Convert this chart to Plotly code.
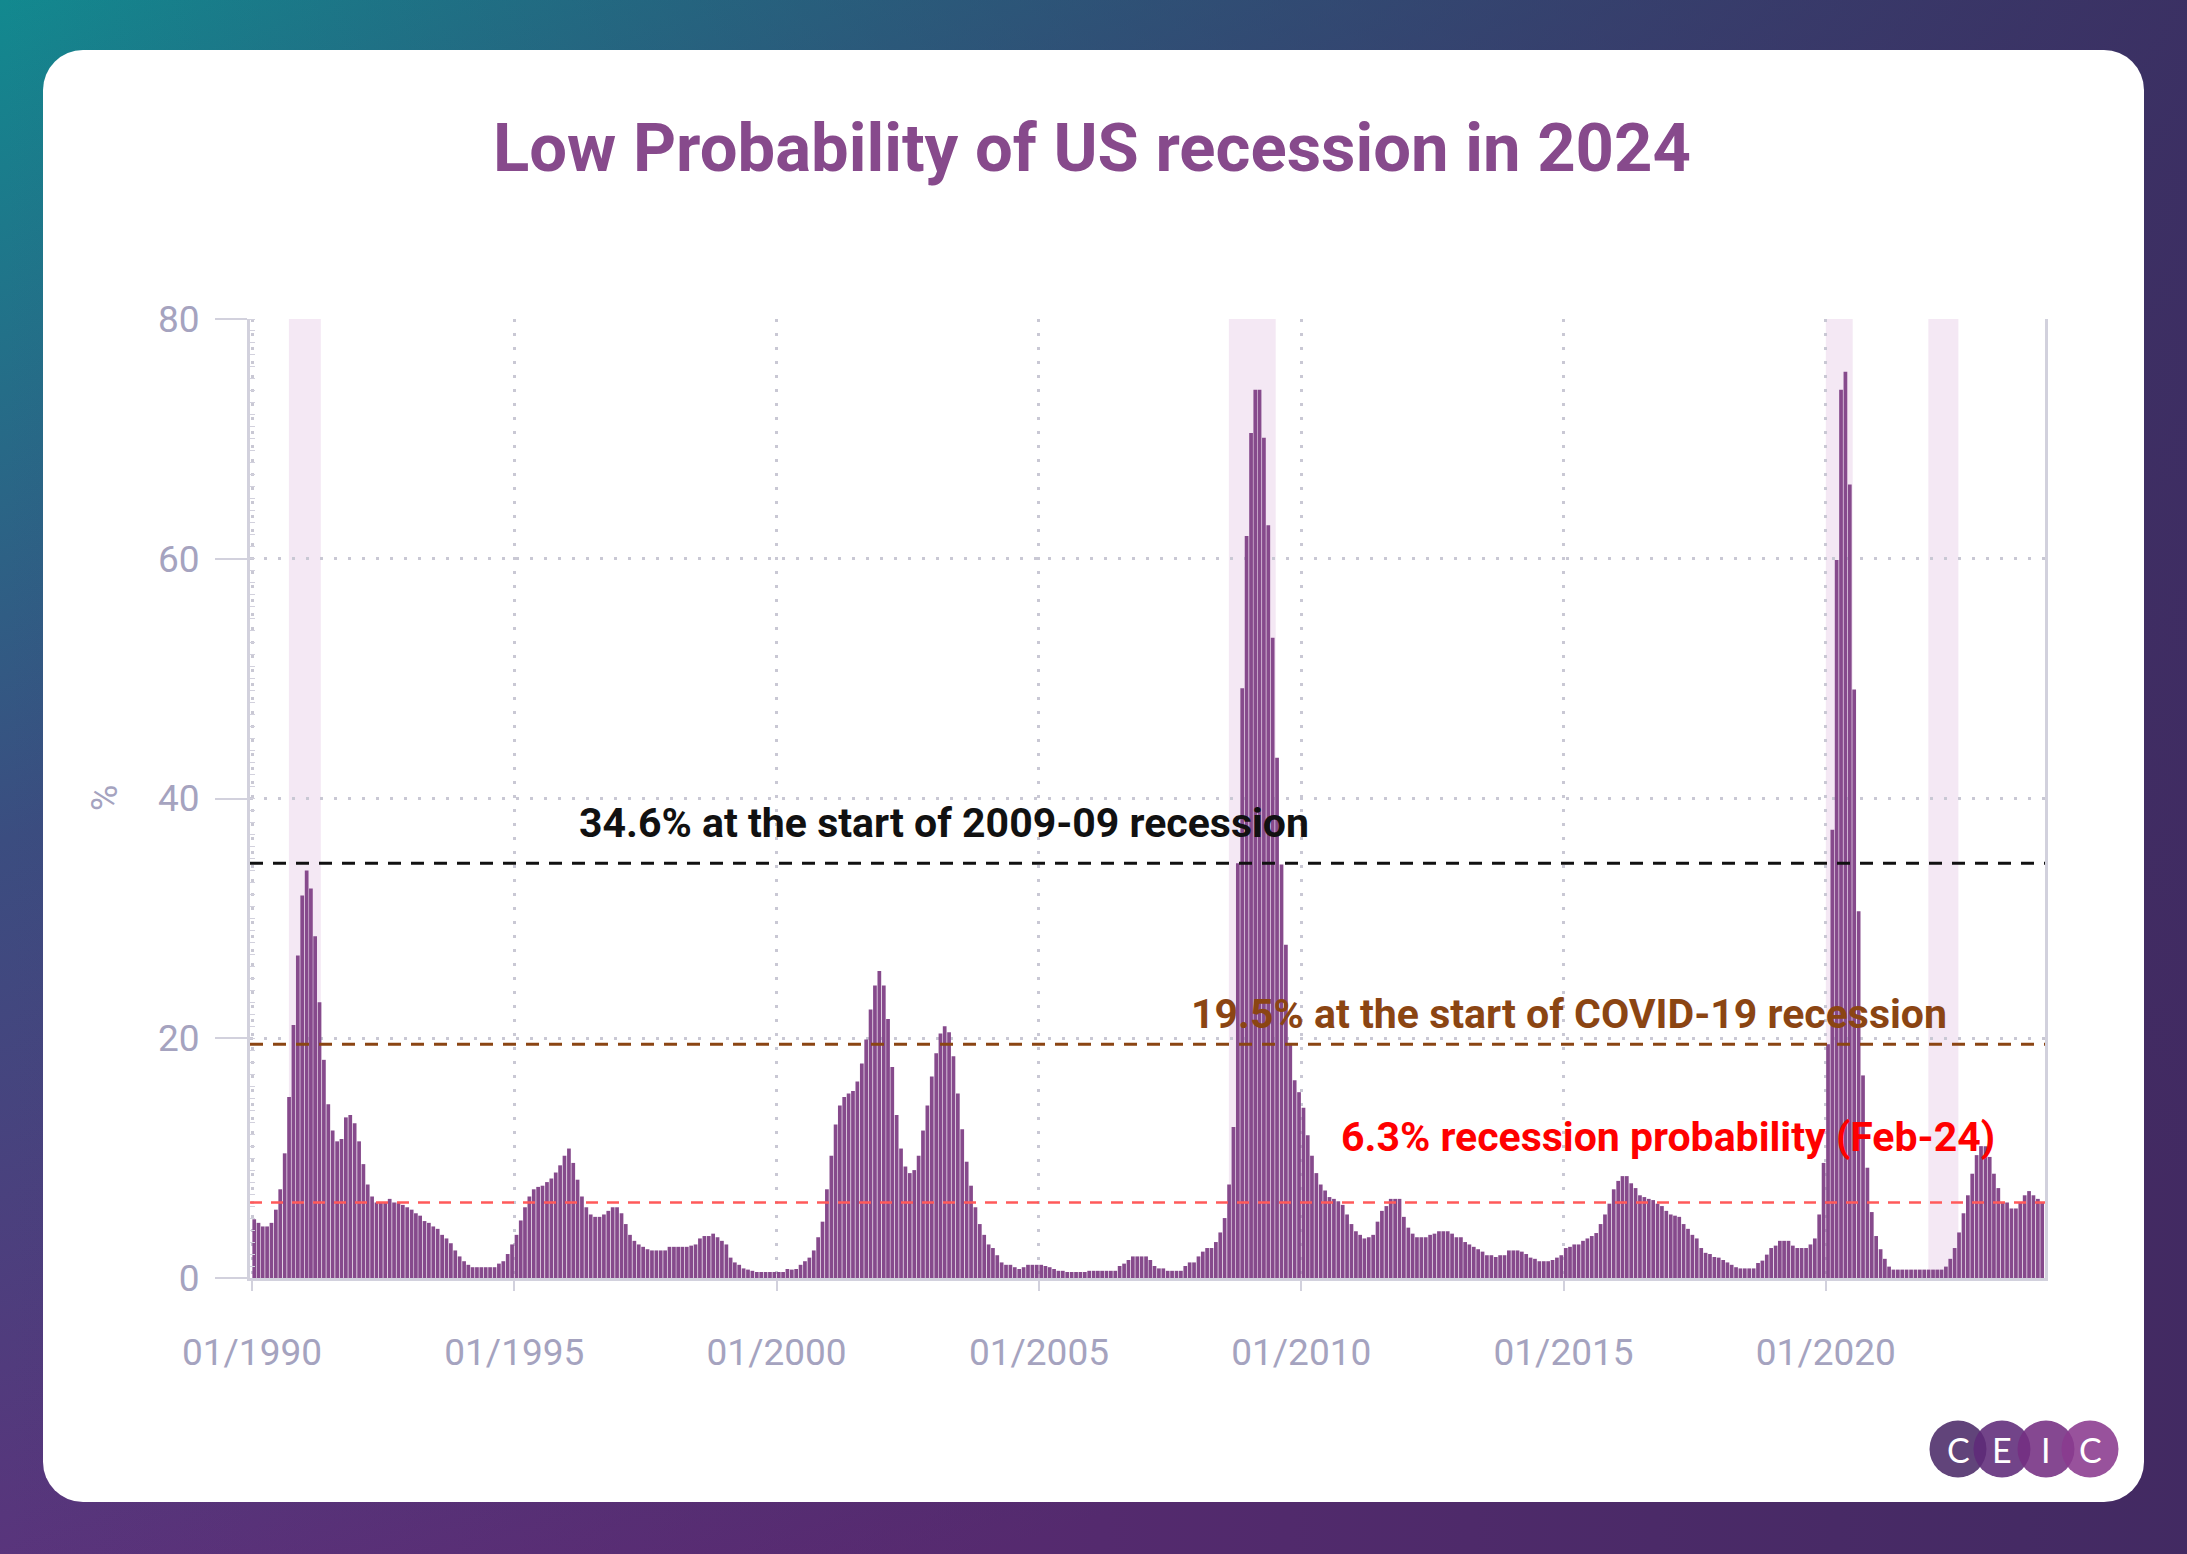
import base64
import pandas as pd
import plotly.graph_objects as go

# ---------------- data (monthly recession probability, %) ----------------
v1990 = [4.9, 4.6, 4.3, 4.3, 4.6, 5.7, 7.4, 10.4, 15.1, 21.1, 26.9, 31.9]
v1991 = [34.0, 32.5, 28.5, 23.0, 18.2, 14.5, 12.3, 11.4, 11.6, 13.4, 13.6, 12.9]
v1992 = [11.4, 9.5, 7.8, 6.8, 6.3, 6.3, 6.3, 6.6, 6.3, 6.3, 6.1, 5.9]
v1993 = [5.7, 5.4, 5.2, 4.75, 4.6, 4.3, 4.1, 3.6, 3.3, 2.9, 2.3, 1.8]
v1994 = [1.4, 1.1, 0.9, 0.9, 0.9, 0.9, 0.9, 0.9, 1.2, 1.4, 2.0, 2.8]
v1995 = [3.6, 4.8, 5.9, 6.8, 7.4, 7.6, 7.7, 8.0, 8.3, 8.8, 9.4, 10.2]
v1996 = [10.8, 9.6, 8.2, 6.8, 5.9, 5.3, 5.1, 5.1, 5.3, 5.6, 5.9, 5.9]
v1997 = [5.4, 4.5, 3.6, 3.1, 2.8, 2.6, 2.4, 2.3, 2.3, 2.3, 2.3, 2.6]
v1998 = [2.6, 2.6, 2.6, 2.6, 2.7, 2.8, 3.3, 3.5, 3.5, 3.7, 3.4, 3.1]
v1999 = [2.8, 1.7, 1.3, 1.1, 0.8, 0.7, 0.6, 0.5, 0.5, 0.5, 0.5, 0.5]
v2000 = [0.5, 0.5, 0.75, 0.7, 0.75, 1.1, 1.4, 1.7, 2.3, 3.4, 4.7, 7.4]
v2001 = [10.2, 12.8, 14.4, 15.1, 15.4, 15.6, 16.4, 17.9, 19.9, 22.4, 24.4, 25.6]
v2002 = [24.4, 21.6, 17.6, 13.6, 10.8, 9.3, 8.75, 9.0, 10.2, 12.3, 14.4, 16.8]
v2003 = [18.75, 20.4, 21.0, 20.5, 18.5, 15.4, 12.4, 9.7, 7.7, 5.9, 4.5, 3.6]
v2004 = [2.8, 2.5, 1.9, 1.3, 1.1, 1.1, 0.9, 0.75, 0.9, 1.1, 1.1, 1.1]
v2005 = [1.1, 1.0, 0.9, 0.75, 0.6, 0.6, 0.5, 0.5, 0.5, 0.5, 0.5, 0.6]
v2006 = [0.6, 0.6, 0.6, 0.6, 0.6, 0.6, 1.0, 1.2, 1.5, 1.8, 1.8, 1.8]
v2007 = [1.8, 1.5, 1.0, 0.8, 0.8, 0.6, 0.6, 0.6, 0.6, 1.0, 1.3, 1.3]
v2008 = [1.8, 2.2, 2.5, 2.5, 3.0, 3.8, 5.0, 7.8, 12.6, 34.6, 49.2, 61.9]
v2009 = [70.5, 74.1, 74.1, 70.1, 62.8, 53.4, 43.4, 34.5, 27.8, 19.5, 16.5, 15.5]
v2010 = [14.2, 11.9, 10.2, 8.75, 7.8, 7.3, 6.75, 6.6, 6.4, 6.1, 5.3, 4.5]
v2011 = [3.9, 3.6, 3.3, 3.4, 3.6, 4.7, 5.6, 6.0, 6.6, 6.6, 6.6, 5.1]
v2012 = [4.2, 3.7, 3.4, 3.4, 3.4, 3.6, 3.7, 3.9, 3.9, 3.9, 3.7, 3.4]
v2013 = [3.4, 3.0, 2.8, 2.6, 2.4, 2.2, 1.9, 1.9, 1.75, 1.9, 1.9, 2.3]
v2014 = [2.3, 2.3, 2.2, 2.0, 1.7, 1.6, 1.4, 1.4, 1.4, 1.5, 1.7, 1.9]
v2015 = [2.5, 2.6, 2.8, 2.8, 3.1, 3.3, 3.5, 3.75, 4.5, 5.3, 6.2, 7.4]
v2016 = [8.1, 8.5, 8.5, 7.9, 7.5, 6.9, 6.75, 6.6, 6.5, 6.2, 6.0, 5.6]
v2017 = [5.3, 5.2, 5.1, 4.5, 4.1, 3.6, 3.3, 2.5, 2.1, 2.0, 1.75, 1.7]
v2018 = [1.5, 1.3, 1.1, 0.9, 0.8, 0.8, 0.8, 0.8, 1.25, 1.45, 1.95, 2.5]
v2019 = [2.7, 3.1, 3.1, 3.1, 2.7, 2.5, 2.5, 2.5, 2.8, 3.3, 5.3, 9.6]
v2020 = [19.5, 37.4, 59.9, 74.1, 75.6, 66.2, 49.1, 30.6, 16.9, 9.2, 5.5, 3.5]
v2021 = [2.4, 1.6, 0.95, 0.7, 0.7, 0.7, 0.7, 0.7, 0.7, 0.7, 0.7, 0.7]
v2022 = [0.7, 0.7, 0.7, 0.95, 1.6, 2.5, 3.8, 5.4, 6.9, 8.7, 10.25, 11.0]
v2023 = [11.0, 10.1, 8.7, 7.5, 6.3, 6.3, 5.8, 5.8, 6.3, 6.9, 7.25, 6.9]
v2024 = [6.6, 6.3]

values = (v1990 + v1991 + v1992 + v1993 + v1994 + v1995 + v1996 + v1997 + v1998 + v1999
          + v2000 + v2001 + v2002 + v2003 + v2004 + v2005 + v2006 + v2007 + v2008 + v2009
          + v2010 + v2011 + v2012 + v2013 + v2014 + v2015 + v2016 + v2017 + v2018 + v2019
          + v2020 + v2021 + v2022 + v2023 + v2024)
dates = pd.date_range("1990-01-01", periods=len(values), freq="MS")

recession_starts = ["1990-09-15", "2008-08-15", "2020-01-01", "2021-12-15"]
recession_ends = ["1991-04-25", "2009-07-07", "2020-07-06", "2022-07-12"]

ref_levels = [34.6, 19.5, 6.3]
ref_labels = ["34.6% at the start of 2009-09 recession",
              "19.5% at the start of COVID-19 recession",
              "6.3% recession probability (Feb-24)"]

title_text = "Low Probability of US recession in 2024"

# ---------------- geometry ----------------
W, H = 2187, 1554
L, R, T, B = 250, 142, 319, 276
PW, PH = W - L - R, H - T - B


def px(X):
    return (X - L) / PW


def py(Y):
    return (H - B - Y) / PH


BAR = "#864a8c"
TICK = "#a5a3bf"
AXIS = "#d2d1dd"
GRID = "#c9c8d4"

fig = go.Figure()
fig.add_trace(go.Bar(
    x=dates, y=values, xperiod="M1", xperiodalignment="middle",
    marker=dict(color=BAR, line=dict(width=0)), hoverinfo="skip",
))

shapes = []
for s, e in zip(recession_starts, recession_ends):
    shapes.append(dict(type="rect", xref="x", yref="paper", x0=s, x1=e, y0=0, y1=1,
                       fillcolor="#f4e8f4", line=dict(width=0), layer="below"))

line_styles = [("#111111", "13px,10px", 3), ("#8b4513", "13px,10px", 3), ("#ff5a5a", "12px,9px", 2.5)]
for lvl, (col, dash, w) in zip(ref_levels, line_styles):
    shapes.append(dict(type="line", xref="paper", yref="y", x0=0, x1=1, y0=lvl, y1=lvl,
                       line=dict(color=col, dash=dash, width=w), layer="above"))

# CEIC logo circles
logo_cx = [1958, 2002, 2046, 2090]
logo_cols = ["#4b2a68", "#5f2a79", "#742f82", "#8a3a8e"]
r = 28.5
for cx, col in zip(logo_cx, logo_cols):
    shapes.append(dict(type="circle", xref="paper", yref="paper",
                       x0=px(cx - r), x1=px(cx + r), y0=py(1449 + r), y1=py(1449 - r),
                       fillcolor=col, opacity=0.88, line=dict(width=0), layer="above"))

annotations = [
    dict(text="<b>" + title_text + "</b>", x=px(1092), y=py(148), xref="paper", yref="paper",
         showarrow=False, font=dict(family="Roboto", size=67, color="#874a8c"),
         xanchor="center", yanchor="middle"),
    dict(text="%", x=px(105), y=py(798), xref="paper", yref="paper", showarrow=False,
         textangle=-90, font=dict(family="Roboto", size=36, color=TICK),
         xanchor="center", yanchor="middle"),
]
lab_pos = [(944, 823, "#111111"), (1569, 1014, "#8b4513"), (1668, 1137, "#ff0000")]
for txt, (X, Y, col) in zip(ref_labels, lab_pos):
    annotations.append(dict(text="<b>" + txt + "</b>", x=px(X), y=py(Y), xref="paper", yref="paper",
                            showarrow=False, font=dict(family="Roboto", size=41, color=col),
                            xanchor="center", yanchor="middle"))
for cx, letter in zip(logo_cx, ["C", "E", "I", "C"]):
    annotations.append(dict(text=letter, x=px(cx), y=py(1449), xref="paper", yref="paper",
                            showarrow=False, font=dict(family="Lato", size=34, color="white"),
                            xanchor="center", yanchor="middle"))

svg = f'''<svg xmlns="http://www.w3.org/2000/svg" width="{W}" height="{H}" viewBox="0 0 {W} {H}">
<defs>
<linearGradient id="g1" x1="0" y1="0" x2="0.45" y2="1">
<stop offset="0" stop-color="#12898f"/>
<stop offset="0.45" stop-color="#3b4d80"/>
<stop offset="1" stop-color="#662a7a"/>
</linearGradient>
<linearGradient id="g2" x1="0" y1="0" x2="1" y2="0">
<stop offset="0" stop-color="#3c2a5e" stop-opacity="0"/>
<stop offset="1" stop-color="#3c2a5e" stop-opacity="0.85"/>
</linearGradient>
</defs>
<rect width="{W}" height="{H}" fill="url(#g1)"/>
<rect width="{W}" height="{H}" fill="url(#g2)"/>
<rect x="43" y="50" width="2101" height="1452" rx="40" ry="40" fill="#ffffff"/>
</svg>'''
src = "data:image/svg+xml;base64," + base64.b64encode(svg.encode()).decode()

fig.update_layout(
    width=W, height=H,
    margin=dict(l=L, r=R, t=T, b=B, pad=0),
    paper_bgcolor="rgba(0,0,0,0)", plot_bgcolor="rgba(0,0,0,0)",
    showlegend=False, bargap=0.12,
    font=dict(family="Roboto", color=TICK),
    shapes=shapes, annotations=annotations,
    images=[dict(source=src, xref="paper", yref="paper", x=px(0), y=py(0),
                 sizex=W / PW, sizey=H / PH, xanchor="left", yanchor="top",
                 sizing="stretch", layer="below")],
)
fig.update_xaxes(
    type="date", range=["1989-12-18", "2024-03-06"],
    tick0="1990-01-01", dtick="M60", tickformat="%m/%Y",
    ticks="outside", ticklen=10, tickwidth=2, tickcolor=AXIS,
    tickfont=dict(family="Roboto", size=37, color=TICK), ticklabelstandoff=30,
    showline=True, linecolor=AXIS, linewidth=3,
    showgrid=True, gridcolor=GRID, gridwidth=2.5, griddash="3px,11px",
    zeroline=False,
)
fig.update_yaxes(
    range=[0, 80], dtick=20, tick0=0,
    ticks="outside", ticklen=32, tickwidth=2, tickcolor=AXIS,
    tickfont=dict(family="Roboto", size=37, color=TICK), ticklabelstandoff=8,
    showline=True, linecolor=AXIS, linewidth=3, mirror=True,
    showgrid=True, gridcolor=GRID, gridwidth=2.5, griddash="3px,11px",
    zeroline=False,
    minor=dict(ticks="inside", ticklen=5, dtick=1, tickcolor=AXIS, tickwidth=1, showgrid=False),
)

fig.write_html("out.html", config={"displayModeBar": False},
               post_script="document.body.style.margin='0';document.body.style.overflow='hidden';")
